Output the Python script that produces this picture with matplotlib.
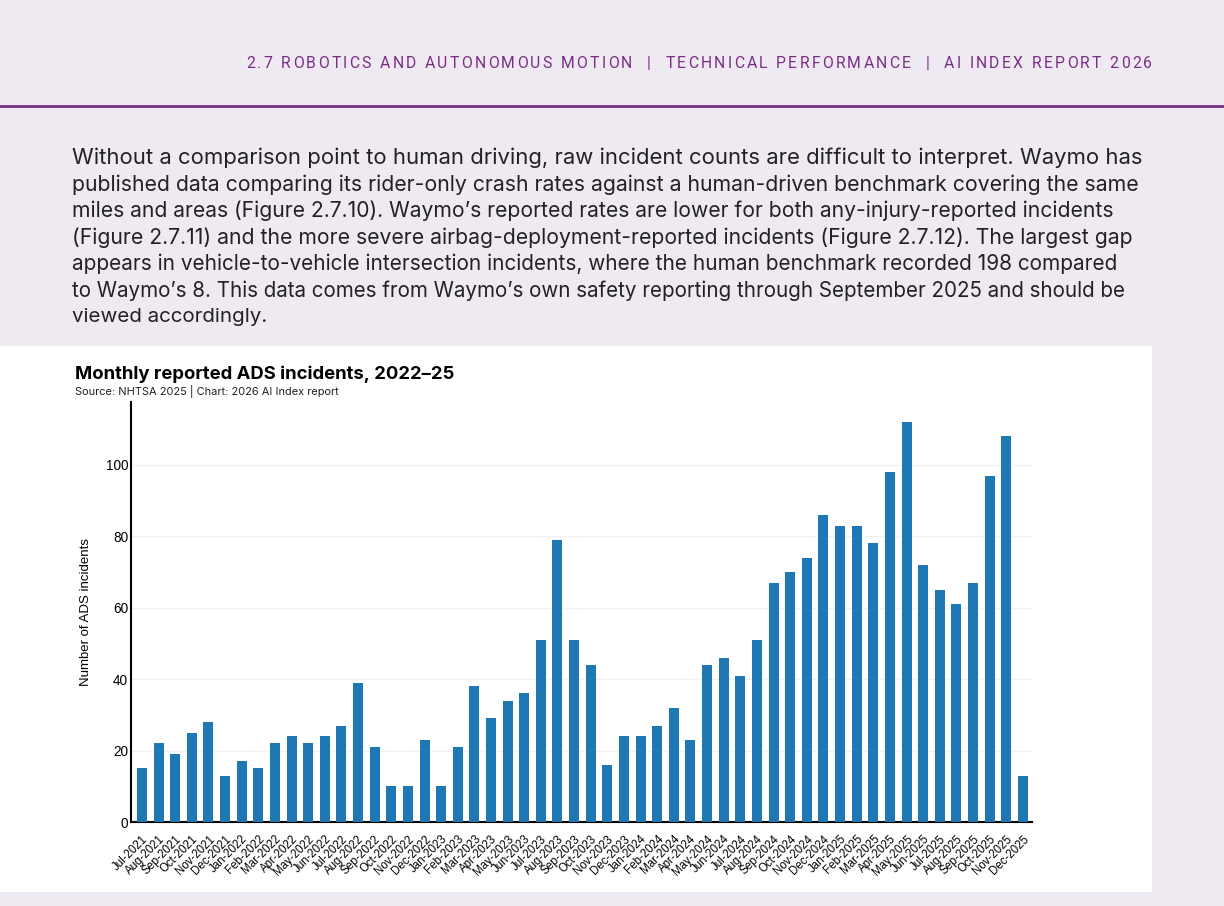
import numpy as np
import matplotlib
matplotlib.use('Agg')
from matplotlib import pyplot as plt
from matplotlib.patches import Rectangle
from matplotlib.lines import Line2D

# monthly counts, Jul-2021 .. Dec-2025
months = ['Jul', 'Aug', 'Sep', 'Oct', 'Nov', 'Dec']
months += ['Jan', 'Feb', 'Mar', 'Apr', 'May', 'Jun', 'Jul', 'Aug', 'Sep', 'Oct', 'Nov', 'Dec'] * 4
years = ['2021'] * 6 + ['2022'] * 12 + ['2023'] * 12 + ['2024'] * 12 + ['2025'] * 12
labels = [m + '-' + y for m, y in zip(months, years)]

incidents = [15, 22, 19, 25, 28, 13,
             17, 15, 22, 24, 22, 24, 27, 39, 21, 10, 10, 23,
             10, 21, 38, 29, 34, 36, 51, 79, 51, 44, 16, 24,
             24, 27, 32, 23, 44, 46, 41, 51, 67, 70, 74, 86,
             83, 83, 78, 98, 112, 72, 65, 61, 67, 97, 108, 13]

yticks = [0, 20, 40, 60, 80, 100]

header = '2.7 ROBOTICS AND AUTONOMOUS MOTION  |  TECHNICAL PERFORMANCE  |  AI INDEX REPORT 2026'
paragraph = [
    'Without a comparison point to human driving, raw incident counts are difficult to interpret. Waymo has',
    'published data comparing its rider-only crash rates against a human-driven benchmark covering the same',
    'miles and areas (Figure 2.7.10). Waymo\u2019s reported rates are lower for both any-injury-reported incidents',
    '(Figure 2.7.11) and the more severe airbag-deployment-reported incidents (Figure 2.7.12). The largest gap',
    'appears in vehicle-to-vehicle intersection incidents, where the human benchmark recorded 198 compared',
    'to Waymo\u2019s 8. This data comes from Waymo\u2019s own safety reporting through September 2025 and should be',
    'viewed accordingly.',
]
# right edge (px) of each paragraph line in the reference
para_ends = [1140, 1140, 1114, 1133, 1118, 1129, 268]
title = 'Monthly reported ADS incidents, 2022\u201325'
subtitle = 'Source: NHTSA 2025 | Chart: 2026 AI Index report'

W, H = 1224, 906
bg = '#efeaf2'
purple = '#7b2d86'
blue = '#1f77b4'

fig = plt.figure(figsize=(W / 100, H / 100), dpi=100)
fig.patch.set_facecolor(bg)


def fx(x):
    return x / W


def fy(y):
    return 1 - y / H


# white chart panel and header rule
fig.patches.append(Rectangle((0, fy(892)), fx(1152), (892 - 346) / H, transform=fig.transFigure,
                             facecolor='white', edgecolor='none', zorder=-10))
fig.lines.append(Line2D([0, 1], [fy(106), fy(106)], transform=fig.transFigure, color=purple, lw=2,
                        zorder=-5))

renderer = fig.canvas.get_renderer()


def width_of(s, **kw):
    t = fig.text(0, 0, s, **kw)
    w = t.get_window_extent(renderer).width
    t.remove()
    return w


def fit(t, width_px):
    bb = t.get_window_extent(renderer)
    t.set_fontsize(t.get_fontsize() * width_px / bb.width)


# letter-spaced header, right edge at 1152
hkw = dict(family='Roboto', fontsize=11.3)
n = len(header)
ref = width_of('x', **hkw)
pos = [width_of(header[:i] + 'x', **hkw) - ref if i > 0 else 0 for i in range(n)]
total = width_of(header, **hkw)
track = (906 - total) / (n - 1)
x0 = 1152 - 906
for i, ch in enumerate(header):
    if ch != ' ':
        fig.text(fx(x0 + pos[i] + i * track), fy(64), ch, ha='left', va='center',
                 color=purple, **hkw)

# paragraph, each line fitted to its width in the reference
for i, line in enumerate(paragraph):
    t = fig.text(fx(72), fy(158 + i * 26.5), line, ha='left', va='center', color='#222222',
                 family='Inter', fontsize=14)
    fit(t, para_ends[i] - 72)

t = fig.text(fx(75), fy(374), title, ha='left', va='center', color='black',
             family='Inter', fontweight='bold', fontsize=13)
fit(t, 380)
t = fig.text(fx(75), fy(392), subtitle, ha='left', va='center', color='#222222',
             family='Inter', fontsize=8)
fit(t, 264)

# chart
ax = fig.add_axes([fx(131), fy(822), fx(1032) - fx(131), (822 - 402) / H])
ax.set_facecolor('white')
x = np.arange(len(incidents))
ax.bar(x, incidents, width=0.6, color=blue, zorder=3)
ax.set_xlim(-0.66, len(incidents) - 0.45)
ax.set_ylim(0, max(incidents) * 1.05)
ax.set_yticks(yticks)
ax.set_xticks(x)
ax.set_xticklabels(labels, rotation=45, ha='right', rotation_mode='anchor',
                   family='Liberation Sans', fontsize=8.3)
for lab in ax.get_yticklabels():
    lab.set_family('Liberation Sans')
ax.tick_params(axis='both', length=0)
ax.tick_params(axis='x', pad=8)
ax.tick_params(axis='y', labelsize=9.8, pad=2)
ax.yaxis.grid(True, color='#f0f0f0', lw=1)
ax.set_axisbelow(True)
for side in ['top', 'right']:
    ax.spines[side].set_visible(False)
for side in ['left', 'bottom']:
    ax.spines[side].set_color('black')
    ax.spines[side].set_linewidth(1.5)
ax.set_ylabel('Number of ADS incidents', family='Liberation Sans', fontsize=9.5)
ax.yaxis.set_label_coords((92 - 131) / (1032 - 131), 0.5)

fig.savefig('out.png', dpi=100, facecolor=bg)
